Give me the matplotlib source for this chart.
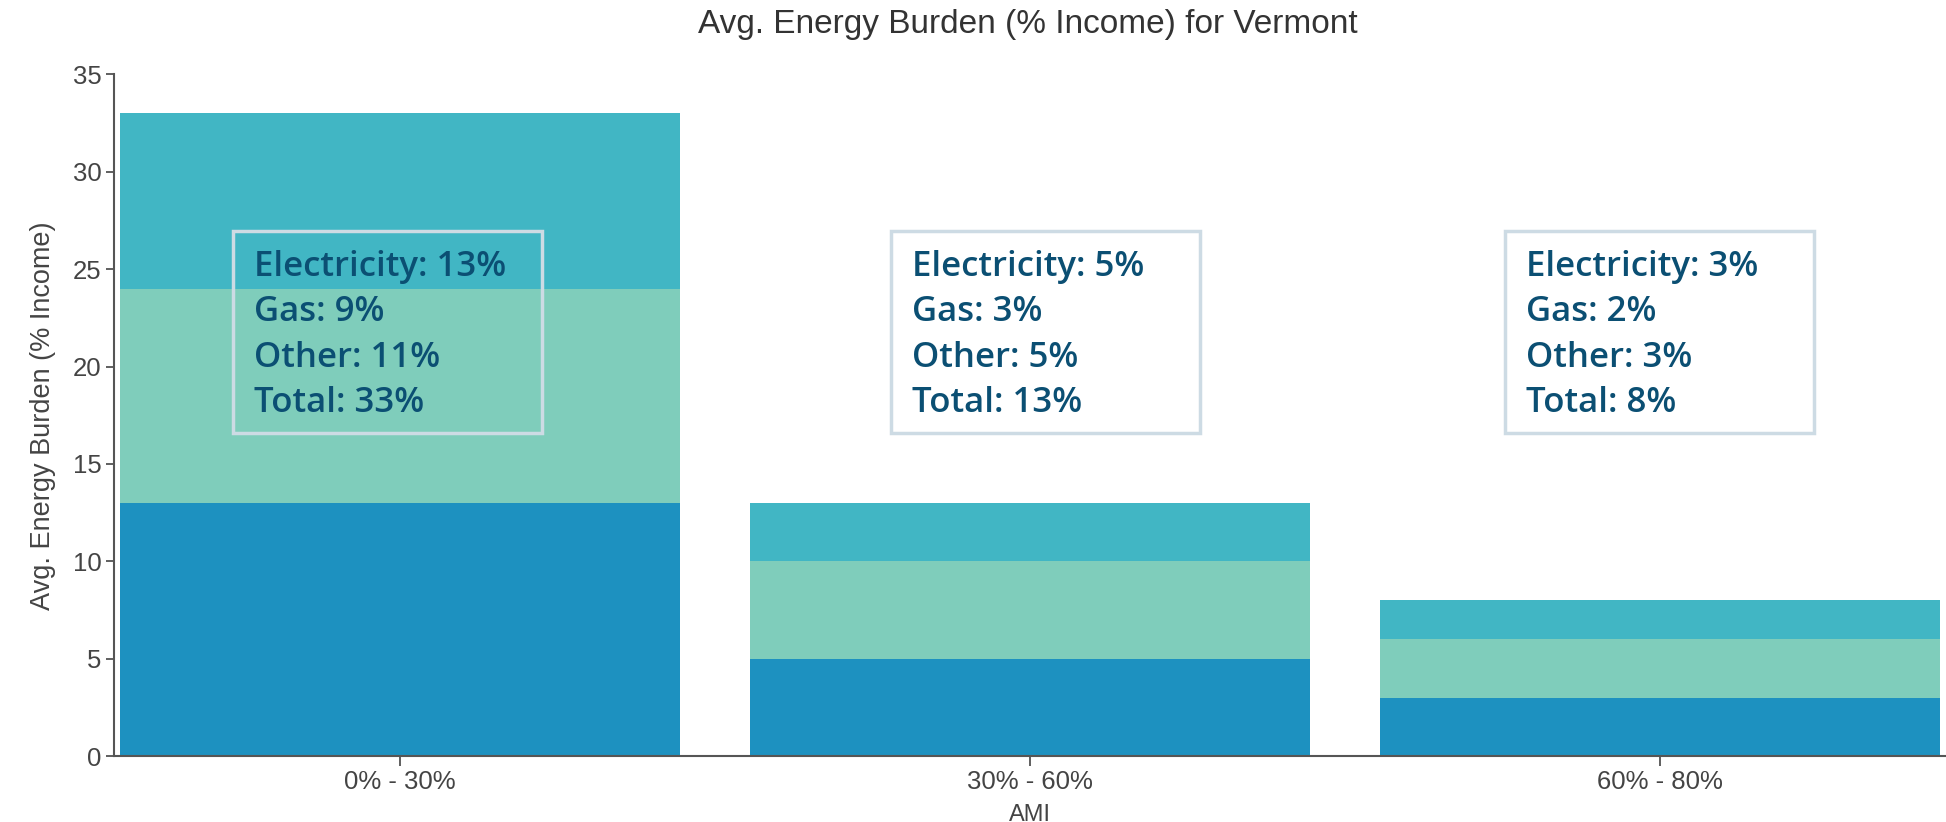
import matplotlib
matplotlib.use("Agg")
import matplotlib.pyplot as plt
import numpy as np

categories = ["0% - 30%", "30% - 60%", "60% - 80%"]
electricity = [13, 5, 3]
other = [11, 5, 3]
gas = [9, 3, 2]
totals = [33, 13, 8]
yticks = [0, 5, 10, 15, 20, 25, 30, 35]

title = "Avg. Energy Burden (% Income) for Vermont"
ylabel = "Avg. Energy Burden (% Income)"
xlabel = "AMI"

c_elec = "#1d91c0"
c_other = "#7fcdbb"
c_gas = "#41b6c4"
gray = "#444444"
txt_color = "#0b4f73"
box_edge = "#cddbe4"

plt.rcParams["font.family"] = ["Liberation Sans", "DejaVu Sans"]

fig = plt.figure(figsize=(19.46, 8.22), dpi=100)
ax = fig.add_axes([114 / 1946, 66 / 822, 1 - 114 / 1946, (756 - 74.5) / 822])

x = np.arange(len(categories))
w = 0.89
b1 = np.array(electricity)
b2 = b1 + np.array(other)
ax.bar(x, electricity, width=w, color=c_elec, linewidth=0)
ax.bar(x, other, width=w, bottom=b1, color=c_other, linewidth=0)
ax.bar(x, gas, width=w, bottom=b2, color=c_gas, linewidth=0)

ax.set_xlim(-0.454, 2.454)
ax.set_ylim(0, 35)
ax.set_yticks(yticks)
ax.set_xticks(x)
ax.set_xticklabels(categories)
ax.tick_params(axis="both", colors=gray, labelsize=18.5, length=6, width=1.2, direction="out")
ax.tick_params(axis="x", length=7, pad=3)
ax.tick_params(axis="y", pad=3)
for s in ["top", "right"]:
    ax.spines[s].set_visible(False)
for s in ["left", "bottom"]:
    ax.spines[s].set_color("#555555")
    ax.spines[s].set_linewidth(1.5)

ax.set_ylabel(ylabel, fontsize=19.5, color=gray, labelpad=12)
ax.set_xlabel(xlabel, fontsize=17, color=gray, labelpad=0)
ax.xaxis.set_label_coords(0.5, -0.07)
fig.text(1028 / 1946, 1 - 24 / 822, title, fontsize=24, color="#333333", ha="center", va="center")

# annotation boxes (pixel positions in figure)
box_left = [233, 891, 1505]
for i in range(len(categories)):
    lines = [
        f"Electricity: {electricity[i]}%",
        f"Gas: {gas[i]}%",
        f"Other: {other[i]}%",
        f"Total: {totals[i]}%",
    ]
    bx = box_left[i]
    rect = plt.Rectangle((bx / 1946, 1 - 433 / 822), 309 / 1946, 202 / 822,
                         transform=fig.transFigure, fill=False,
                         edgecolor=box_edge, linewidth=2.5)
    fig.patches.append(rect)
    for j, ln in enumerate(lines):
        fig.text((bx + 21) / 1946, 1 - (276 + 45.3 * j) / 822, ln,
                 fontsize=25, fontweight="semibold", family=["Open Sans", "DejaVu Sans"],
                 color=txt_color, ha="left", va="baseline")

fig.savefig("out.png", dpi=100)
